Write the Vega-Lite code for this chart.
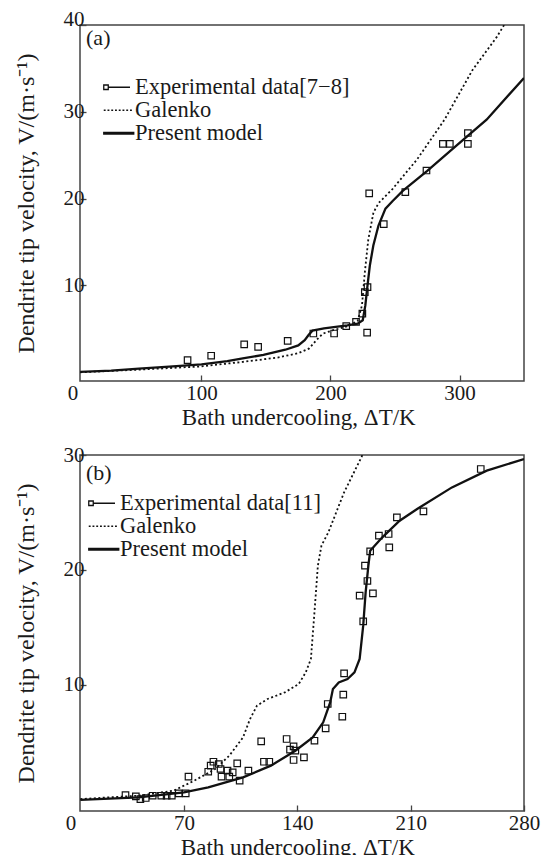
{
  "$schema": "https://vega.github.io/schema/vega-lite/v6.json",
  "background": "white",
  "padding": {"left": 13, "top": 7, "right": 0, "bottom": 0},
  "bounds": "flush",
  "spacing": 74,
  "resolve": {"scale": {"shape": "independent"}, "legend": {"shape": "independent"}},
  "config": {
    "view": {"stroke": "#444", "strokeWidth": 1.5},
    "font": "Liberation Serif",
    "axis": {"grid": false, "domain": false, "labelFont": "Liberation Serif", "labelFontSize": 21, "labelColor": "#1a1a1a", "titleFont": "Liberation Serif", "titleFontWeight": "normal", "titleColor": "#1a1a1a", "tickColor": "#444", "tickWidth": 1.3, "tickSize": -6, "labelFlush": false, "labelOverlap": false},
    "axisX": {"labelPadding": 7, "titlePadding": 0, "minExtent": 25, "maxExtent": 25, "titleFontSize": 23},
    "axisY": {"labelPadding": 2, "titlePadding": 14, "minExtent": 28, "maxExtent": 28, "titleFontSize": 24},
    "legend": {"labelFont": "Liberation Serif", "labelFontSize": 22.5, "labelColor": "#1a1a1a", "symbolSize": 225, "symbolStrokeWidth": 1.3, "symbolStrokeColor": "#111", "rowPadding": 0, "labelOffset": 5, "padding": 0, "labelLimit": 400}
  },
  "datasets": {
    "a": [
      {"series": "Experimental data[7−8]", "dT": 89.2, "V": 1.41},
      {"series": "Experimental data[7−8]", "dT": 107.5, "V": 1.91},
      {"series": "Experimental data[7−8]", "dT": 133.1, "V": 3.21},
      {"series": "Experimental data[7−8]", "dT": 143.9, "V": 2.94},
      {"series": "Experimental data[7−8]", "dT": 166.8, "V": 3.63},
      {"series": "Experimental data[7−8]", "dT": 186.7, "V": 4.47},
      {"series": "Experimental data[7−8]", "dT": 202.8, "V": 4.47},
      {"series": "Experimental data[7−8]", "dT": 212.2, "V": 5.31},
      {"series": "Experimental data[7−8]", "dT": 219.8, "V": 5.8},
      {"series": "Experimental data[7−8]", "dT": 224.7, "V": 6.76},
      {"series": "Experimental data[7−8]", "dT": 226.6, "V": 9.24},
      {"series": "Experimental data[7−8]", "dT": 228.7, "V": 9.81},
      {"series": "Experimental data[7−8]", "dT": 228.4, "V": 4.58},
      {"series": "Experimental data[7−8]", "dT": 230.0, "V": 20.6},
      {"series": "Experimental data[7−8]", "dT": 241.3, "V": 17.06},
      {"series": "Experimental data[7−8]", "dT": 258.0, "V": 20.76},
      {"series": "Experimental data[7−8]", "dT": 274.4, "V": 23.24},
      {"series": "Experimental data[7−8]", "dT": 287.1, "V": 26.3},
      {"series": "Experimental data[7−8]", "dT": 292.5, "V": 26.3},
      {"series": "Experimental data[7−8]", "dT": 306.5, "V": 27.56},
      {"series": "Experimental data[7−8]", "dT": 306.5, "V": 26.3},
      {"series": "Galenko", "dT": 6, "V": 0.0},
      {"series": "Galenko", "dT": 50, "V": 0.3},
      {"series": "Galenko", "dT": 100, "V": 0.68},
      {"series": "Galenko", "dT": 132, "V": 1.2},
      {"series": "Galenko", "dT": 159, "V": 1.7},
      {"series": "Galenko", "dT": 175, "V": 2.2},
      {"series": "Galenko", "dT": 183.5, "V": 2.75},
      {"series": "Galenko", "dT": 189, "V": 3.7},
      {"series": "Galenko", "dT": 194, "V": 4.45},
      {"series": "Galenko", "dT": 202, "V": 4.85},
      {"series": "Galenko", "dT": 213, "V": 5.3},
      {"series": "Galenko", "dT": 221, "V": 5.9},
      {"series": "Galenko", "dT": 224.4, "V": 7.7},
      {"series": "Galenko", "dT": 226.6, "V": 11.5},
      {"series": "Galenko", "dT": 229.3, "V": 15.3},
      {"series": "Galenko", "dT": 233.3, "V": 18.4},
      {"series": "Galenko", "dT": 237.3, "V": 19.5},
      {"series": "Galenko", "dT": 248, "V": 21.1},
      {"series": "Galenko", "dT": 267, "V": 24.5},
      {"series": "Galenko", "dT": 288.4, "V": 29.1},
      {"series": "Galenko", "dT": 310, "V": 34.8},
      {"series": "Galenko", "dT": 328.8, "V": 38.6},
      {"series": "Galenko", "dT": 345, "V": 42.5},
      {"series": "Present model", "dT": 6, "V": 0.05},
      {"series": "Present model", "dT": 30, "V": 0.2},
      {"series": "Present model", "dT": 51.5, "V": 0.42},
      {"series": "Present model", "dT": 75, "V": 0.65},
      {"series": "Present model", "dT": 100, "V": 0.92},
      {"series": "Present model", "dT": 120, "V": 1.3},
      {"series": "Present model", "dT": 132, "V": 1.6},
      {"series": "Present model", "dT": 148, "V": 2.0},
      {"series": "Present model", "dT": 165, "V": 2.6},
      {"series": "Present model", "dT": 175, "V": 3.1},
      {"series": "Present model", "dT": 180, "V": 3.7},
      {"series": "Present model", "dT": 183, "V": 4.3},
      {"series": "Present model", "dT": 186, "V": 4.8},
      {"series": "Present model", "dT": 195, "V": 5.05},
      {"series": "Present model", "dT": 213, "V": 5.4},
      {"series": "Present model", "dT": 221, "V": 5.6},
      {"series": "Present model", "dT": 225, "V": 6.0},
      {"series": "Present model", "dT": 227, "V": 7.7},
      {"series": "Present model", "dT": 228.7, "V": 10},
      {"series": "Present model", "dT": 230.5, "V": 12.3},
      {"series": "Present model", "dT": 233.2, "V": 14.6},
      {"series": "Present model", "dT": 237.2, "V": 16.9},
      {"series": "Present model", "dT": 242.6, "V": 18.85},
      {"series": "Present model", "dT": 248, "V": 19.7},
      {"series": "Present model", "dT": 256, "V": 20.9},
      {"series": "Present model", "dT": 275, "V": 23.2},
      {"series": "Present model", "dT": 294, "V": 25.65},
      {"series": "Present model", "dT": 321, "V": 29.1},
      {"series": "Present model", "dT": 350, "V": 33.9}
    ],
    "b": [
      {"series": "Experimental data[11]", "dT": 33.9, "V": 0.39},
      {"series": "Experimental data[11]", "dT": 40.3, "V": 0.28},
      {"series": "Experimental data[11]", "dT": 43.1, "V": 0.04},
      {"series": "Experimental data[11]", "dT": 46.4, "V": 0.13},
      {"series": "Experimental data[11]", "dT": 50.7, "V": 0.33},
      {"series": "Experimental data[11]", "dT": 56.0, "V": 0.33},
      {"series": "Experimental data[11]", "dT": 59.3, "V": 0.33},
      {"series": "Experimental data[11]", "dT": 62.5, "V": 0.33},
      {"series": "Experimental data[11]", "dT": 66.8, "V": 0.54},
      {"series": "Experimental data[11]", "dT": 71.1, "V": 0.54},
      {"series": "Experimental data[11]", "dT": 72.8, "V": 1.99},
      {"series": "Experimental data[11]", "dT": 85.0, "V": 2.42},
      {"series": "Experimental data[11]", "dT": 86.5, "V": 2.95},
      {"series": "Experimental data[11]", "dT": 88.2, "V": 3.29},
      {"series": "Experimental data[11]", "dT": 91.5, "V": 3.09},
      {"series": "Experimental data[11]", "dT": 92.6, "V": 2.66},
      {"series": "Experimental data[11]", "dT": 93.2, "V": 1.99},
      {"series": "Experimental data[11]", "dT": 96.9, "V": 2.51},
      {"series": "Experimental data[11]", "dT": 98.0, "V": 1.99},
      {"series": "Experimental data[11]", "dT": 100.1, "V": 2.37},
      {"series": "Experimental data[11]", "dT": 102.9, "V": 3.15},
      {"series": "Experimental data[11]", "dT": 104.4, "V": 1.64},
      {"series": "Experimental data[11]", "dT": 109.8, "V": 2.51},
      {"series": "Experimental data[11]", "dT": 117.7, "V": 5.07},
      {"series": "Experimental data[11]", "dT": 119.4, "V": 3.29},
      {"series": "Experimental data[11]", "dT": 122.7, "V": 3.29},
      {"series": "Experimental data[11]", "dT": 133.4, "V": 5.27},
      {"series": "Experimental data[11]", "dT": 135.5, "V": 4.34},
      {"series": "Experimental data[11]", "dT": 137.7, "V": 4.63},
      {"series": "Experimental data[11]", "dT": 137.7, "V": 3.44},
      {"series": "Experimental data[11]", "dT": 138.8, "V": 4.25},
      {"series": "Experimental data[11]", "dT": 144.1, "V": 3.67},
      {"series": "Experimental data[11]", "dT": 150.6, "V": 5.12},
      {"series": "Experimental data[11]", "dT": 157.5, "V": 6.2},
      {"series": "Experimental data[11]", "dT": 158.8, "V": 8.32},
      {"series": "Experimental data[11]", "dT": 167.8, "V": 7.21},
      {"series": "Experimental data[11]", "dT": 168.4, "V": 9.13},
      {"series": "Experimental data[11]", "dT": 168.9, "V": 10.99},
      {"series": "Experimental data[11]", "dT": 180.7, "V": 15.52},
      {"series": "Experimental data[11]", "dT": 178.5, "V": 17.75},
      {"series": "Experimental data[11]", "dT": 181.8, "V": 20.36},
      {"series": "Experimental data[11]", "dT": 183.3, "V": 19.03},
      {"series": "Experimental data[11]", "dT": 185.0, "V": 21.61},
      {"series": "Experimental data[11]", "dT": 186.7, "V": 17.95},
      {"series": "Experimental data[11]", "dT": 190.4, "V": 22.98},
      {"series": "Experimental data[11]", "dT": 196.4, "V": 23.12},
      {"series": "Experimental data[11]", "dT": 196.8, "V": 21.96},
      {"series": "Experimental data[11]", "dT": 201.5, "V": 24.57},
      {"series": "Experimental data[11]", "dT": 217.9, "V": 25.09},
      {"series": "Experimental data[11]", "dT": 253.3, "V": 28.78},
      {"series": "Galenko", "dT": 6, "V": 0.04},
      {"series": "Galenko", "dT": 42, "V": 0.33},
      {"series": "Galenko", "dT": 63.6, "V": 0.77},
      {"series": "Galenko", "dT": 76.4, "V": 1.64},
      {"series": "Galenko", "dT": 89.3, "V": 2.66},
      {"series": "Galenko", "dT": 98, "V": 3.82},
      {"series": "Galenko", "dT": 106.5, "V": 5.41},
      {"series": "Galenko", "dT": 110.8, "V": 7.01},
      {"series": "Galenko", "dT": 115.1, "V": 8.17},
      {"series": "Galenko", "dT": 121.6, "V": 8.75},
      {"series": "Galenko", "dT": 132.3, "V": 9.33},
      {"series": "Galenko", "dT": 140.9, "V": 10.06},
      {"series": "Galenko", "dT": 145.2, "V": 11.07},
      {"series": "Galenko", "dT": 148.4, "V": 12.24},
      {"series": "Galenko", "dT": 150.6, "V": 16.3},
      {"series": "Galenko", "dT": 152.7, "V": 20.36},
      {"series": "Galenko", "dT": 154.9, "V": 22.1},
      {"series": "Galenko", "dT": 159.2, "V": 23.27},
      {"series": "Galenko", "dT": 168.9, "V": 26.75},
      {"series": "Galenko", "dT": 179.6, "V": 29.8},
      {"series": "Galenko", "dT": 182, "V": 30.6},
      {"series": "Present model", "dT": 6, "V": -0.04},
      {"series": "Present model", "dT": 42, "V": 0.19},
      {"series": "Present model", "dT": 70, "V": 0.62},
      {"series": "Present model", "dT": 85, "V": 1.06},
      {"series": "Present model", "dT": 106.5, "V": 1.93},
      {"series": "Present model", "dT": 123.7, "V": 2.95},
      {"series": "Present model", "dT": 138.8, "V": 4.25},
      {"series": "Present model", "dT": 149.5, "V": 5.41},
      {"series": "Present model", "dT": 156, "V": 6.72},
      {"series": "Present model", "dT": 160.3, "V": 8.46},
      {"series": "Present model", "dT": 162, "V": 9.62},
      {"series": "Present model", "dT": 165.6, "V": 10.2},
      {"series": "Present model", "dT": 171, "V": 10.49},
      {"series": "Present model", "dT": 175.3, "V": 11.07},
      {"series": "Present model", "dT": 178.5, "V": 12.24},
      {"series": "Present model", "dT": 180.7, "V": 15.14},
      {"series": "Present model", "dT": 182.2, "V": 18.04},
      {"series": "Present model", "dT": 183.9, "V": 20.36},
      {"series": "Present model", "dT": 185, "V": 21.67},
      {"series": "Present model", "dT": 192.5, "V": 22.83},
      {"series": "Present model", "dT": 203.2, "V": 24.28},
      {"series": "Present model", "dT": 214, "V": 25.3},
      {"series": "Present model", "dT": 235.5, "V": 27.18},
      {"series": "Present model", "dT": 257, "V": 28.64},
      {"series": "Present model", "dT": 280, "V": 29.65}
    ]
  },
  "vconcat": [
    {
      "width": 444,
      "height": 356,
      "data": {"name": "a"},
      "encoding": {
        "x": {"field": "dT", "type": "quantitative", "scale": {"domain": [0, 350], "range": [-7.5, 444]}, "axis": {"values": [0, 100, 200, 300], "title": "Bath undercooling,  ΔT/K", "tickOpacity": {"condition": {"test": "datum.value === 0", "value": 0}, "value": 1}}},
        "y": {"field": "V", "type": "quantitative", "scale": {"domain": [-1, 40], "zero": false}, "axis": {"values": [10, 20, 30, 40], "title": "Dendrite tip velocity, V/(m·s⁻¹)", "labelBaseline": {"condition": {"test": "datum.value === 40", "value": "alphabetic"}, "value": "middle"}}}
      },
      "layer": [
        {"transform": [{"filter": "datum.series === 'Galenko'"}], "mark": {"type": "line", "clip": true, "strokeDash": [2, 2.5], "strokeWidth": 1.8, "color": "#111"}},
        {"transform": [{"filter": "datum.series === 'Present model'"}], "mark": {"type": "line", "clip": true, "strokeWidth": 2.3, "color": "#111"}},
        {"transform": [{"filter": "datum.series === 'Experimental data[7−8]'"}], "mark": {"type": "point", "shape": "square", "filled": false, "size": 42, "strokeWidth": 1.2, "color": "#111", "opacity": 1, "clip": true}},
        {"transform": [{"filter": "false"}], "mark": {"type": "point", "filled": false, "color": "#111", "opacity": 1},
         "encoding": {"shape": {"field": "series", "type": "nominal",
           "scale": {"domain": ["Experimental data[7−8]", "Galenko", "Present model"], "range": ["M-2,-0.3H-1.4V0.3H-2ZM-1.4,0H1.5", "M-2,0H-1.75M-1.5,0H-1.25M-1,0H-0.75M-0.5,0H-0.25M0,0H0.25M0.5,0H0.75M1,0H1.25M1.5,0H1.75", "M-2,-0.1H2V0.1H-2Z"]},
           "legend": {"orient": "none", "legendX": 27.5, "legendY": 51, "title": null}}}},
        {"data": {"values": [{"panel": "(a)", "dT": 10.5, "V": 40}]}, "mark": {"type": "text", "align": "left", "baseline": "top", "dy": 3, "font": "Liberation Serif", "fontSize": 22, "fill": "#1a1a1a", "opacity": 1},
         "encoding": {"text": {"field": "panel", "type": "nominal"}}}
      ]
    },
    {
      "width": 444,
      "height": 356,
      "data": {"name": "b"},
      "encoding": {
        "x": {"field": "dT", "type": "quantitative", "scale": {"domain": [0, 280], "range": [-9.4, 444]}, "axis": {"values": [0, 70, 140, 210, 280], "title": "Bath undercooling,  ΔT/K", "tickOpacity": {"condition": {"test": "datum.value === 0", "value": 0}, "value": 1}}},
        "y": {"field": "V", "type": "quantitative", "scale": {"domain": [-1, 30], "zero": false}, "axis": {"values": [10, 20, 30], "title": "Dendrite tip velocity, V/(m·s⁻¹)"}}
      },
      "layer": [
        {"transform": [{"filter": "datum.series === 'Galenko'"}], "mark": {"type": "line", "clip": true, "strokeDash": [2, 2.5], "strokeWidth": 1.8, "color": "#111"}},
        {"transform": [{"filter": "datum.series === 'Present model'"}], "mark": {"type": "line", "clip": true, "strokeWidth": 2.3, "color": "#111"}},
        {"transform": [{"filter": "datum.series === 'Experimental data[11]'"}], "mark": {"type": "point", "shape": "square", "filled": false, "size": 42, "strokeWidth": 1.2, "color": "#111", "opacity": 1, "clip": true}},
        {"transform": [{"filter": "false"}], "mark": {"type": "point", "filled": false, "color": "#111", "opacity": 1},
         "encoding": {"shape": {"field": "series", "type": "nominal",
           "scale": {"domain": ["Experimental data[11]", "Galenko", "Present model"], "range": ["M-2,-0.3H-1.4V0.3H-2ZM-1.4,0H1.5", "M-2,0H-1.75M-1.5,0H-1.25M-1,0H-0.75M-0.5,0H-0.25M0,0H0.25M0.5,0H0.75M1,0H1.25M1.5,0H1.75", "M-2,-0.1H2V0.1H-2Z"]},
           "legend": {"orient": "none", "legendX": 12.5, "legendY": 37, "title": null}}}},
        {"data": {"values": [{"panel": "(b)", "dT": 9.5, "V": 30}]}, "mark": {"type": "text", "align": "left", "baseline": "top", "dy": 8, "font": "Liberation Serif", "fontSize": 22, "fill": "#1a1a1a", "opacity": 1},
         "encoding": {"text": {"field": "panel", "type": "nominal"}}}
      ]
    }
  ]
}
